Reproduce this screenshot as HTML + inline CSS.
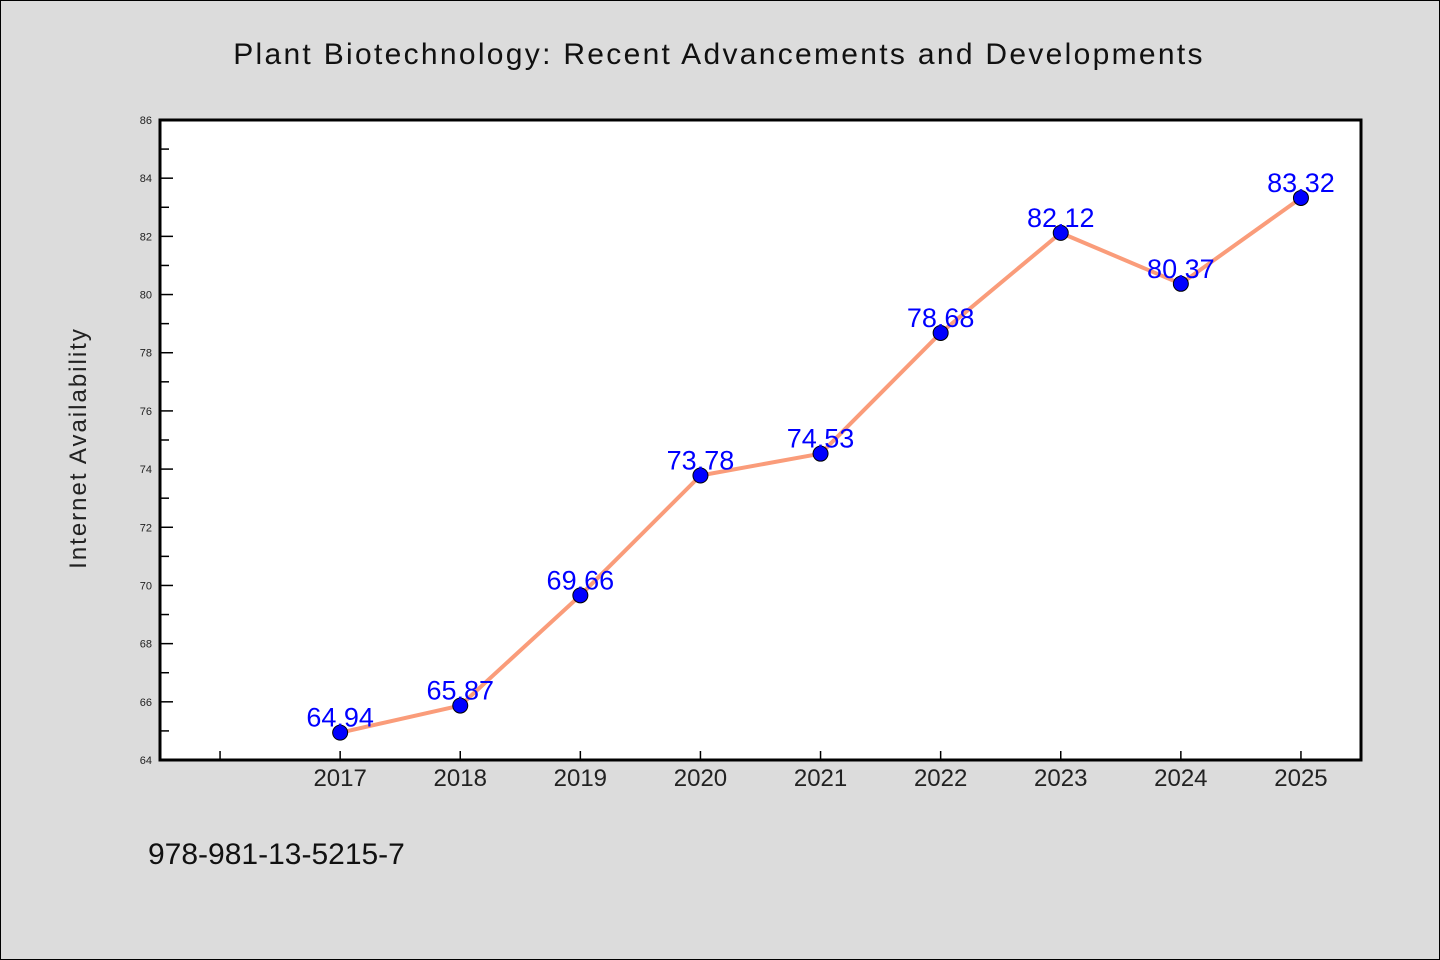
<!DOCTYPE html>
<html><head><meta charset="utf-8"><style>
html,body{margin:0;padding:0;background:#dcdcdc;}
svg{display:block;}
text{font-family:"WenQuanYi Zen Hei","Liberation Sans",sans-serif;}
</style></head><body>
<svg id="chart" width="1440" height="960">
<rect x="0.5" y="0.5" width="1439" height="959" fill="#dcdcdc" stroke="#000"/>
<text x="719" y="64" text-anchor="middle" font-size="30" letter-spacing="2.3" fill="#111">Plant Biotechnology: Recent Advancements and Developments</text>
<rect x="160" y="120" width="1201" height="640" fill="#fff"/>
<g id="axes"></g>
<g id="series"></g>
<rect x="160" y="120" width="1201" height="640" fill="none" stroke="#000" stroke-width="3"/>
<text transform="translate(86,448) rotate(-90)" text-anchor="middle" font-size="24" letter-spacing="2" fill="#222">Internet Availability</text>
<text x="148" y="864" font-size="30" fill="#111">978-981-13-5215-7</text>
</svg>
<script>
const categories = ["", "2017","2018","2019","2020","2021","2022","2023","2024","2025"];
const values = [null, 64.94,65.87,69.66,73.78,74.53,78.68,82.12,80.37,83.32];
const valueLabels = ["", "64.94","65.87","69.66","73.78","74.53","78.68","82.12","80.37","83.32"];
const yTicks = [64,66,68,70,72,74,76,78,80,82,84,86];
const ns="http://www.w3.org/2000/svg";
const x0=160,x1=1361,y0=760,y1=120,yMin=64,yMax=86;
const n=categories.length;
function xs(i){return x0+(x1-x0)*(i+0.5)/n;}
function ys(v){return y0-(v-yMin)/(yMax-yMin)*(y0-y1);}
function mk(tag,attrs,parent){const e=document.createElementNS(ns,tag);for(const k in attrs)e.setAttribute(k,attrs[k]);parent.appendChild(e);return e;}
const ax=document.getElementById('axes'), sr=document.getElementById('series');
yTicks.forEach((t,i)=>{
  const y=ys(t);
  const l=mk('line',{x1:x0,x2:x0+13,y1:y,y2:y,stroke:'#000','stroke-width':1.5},ax);
  
  
  const tx=mk('text',{x:x0-8,y:y+4,'text-anchor':'end','font-size':11,fill:'#222'},ax);
  tx.textContent=t;
  
  
  if(i<yTicks.length-1){
    const ym=ys(t+(yTicks[1]-yTicks[0])/2);
    const m=mk('line',{x1:x0,x2:x0+9,y1:ym,y2:ym,stroke:'#000','stroke-width':1.5},ax);
    
    
  }
});
categories.forEach((c,i)=>{
  const x=xs(i);
  const l=mk('line',{x1:x,x2:x,y1:y0,y2:y0-9,stroke:'#000','stroke-width':1.5},ax);
  
  
  const tx=mk('text',{x:x,y:y0+26,'text-anchor':'middle','font-size':24,fill:'#222'},ax);
  tx.textContent=c;
  
  
});
let pts=[];
values.forEach((v,i)=>{if(v!==null)pts.push(xs(i)+','+ys(v));});
const line=mk('polyline',{points:pts.join(' '),fill:'none',stroke:'#fa9c7a','stroke-width':4,'stroke-linejoin':'round'},sr);


values.forEach((v,i)=>{
  if(v===null)return;
  const c=mk('circle',{cx:xs(i),cy:ys(v),r:7.5,fill:'#0000ff',stroke:'#000','stroke-width':1},sr);
  
  
  const t=mk('text',{x:xs(i),y:ys(v)-6,'text-anchor':'middle','font-size':27,fill:'#0000ff'},sr);
  t.textContent=valueLabels[i];
  
  
});
</script>
</body></html>
